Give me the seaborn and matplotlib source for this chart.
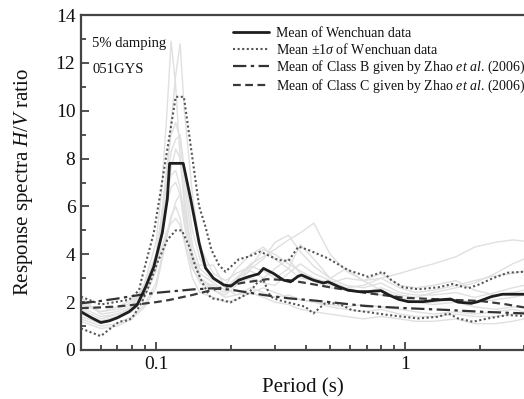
import numpy as np
import pandas as pd
import matplotlib
matplotlib.use("Agg")
import matplotlib.pyplot as plt
import seaborn as sns
from matplotlib.ticker import FixedLocator, NullFormatter, FixedFormatter

# ---------------- data ----------------
grey_periods = [0.05, 0.06, 0.07, 0.08, 0.09, 0.1, 0.105, 0.11, 0.115, 0.12, 0.125, 0.13,
                0.14, 0.15, 0.17, 0.19, 0.21, 0.24, 0.27, 0.3, 0.34, 0.38, 0.43, 0.5,
                0.58, 0.68, 0.8, 0.95, 1.1, 1.3, 1.6, 1.9, 2.3, 2.7, 3.0]
grey_1 = [1.5, 1.2, 1.4, 1.8, 2.8, 4.5, 6.5, 9.5, 12.9, 11.0, 8.0, 6.0, 4.0, 3.2, 2.8, 2.5, 3.0, 3.6,
          3.9, 4.2, 4.6, 4.9, 5.3, 4.0, 3.3, 2.9, 3.2, 2.7, 2.6, 2.7, 2.9, 2.5, 2.3, 2.4, 2.5]
grey_2 = [1.7, 1.3, 1.5, 1.7, 2.3, 3.5, 5.0, 7.0, 9.5, 11.5, 12.8, 10.0, 6.5, 4.3, 3.2, 2.9, 3.2, 3.5,
          3.3, 3.0, 3.4, 3.0, 2.9, 2.6, 2.5, 2.4, 2.6, 2.3, 2.2, 2.4, 2.6, 2.8, 3.2, 3.6, 3.8]
grey_3 = [2.0, 1.6, 1.7, 2.0, 2.7, 4.0, 5.5, 7.0, 8.3, 8.8, 9.0, 7.5, 5.0, 3.8, 3.0, 2.6, 3.0, 3.3,
          3.0, 3.4, 3.8, 3.2, 3.0, 2.8, 3.0, 2.9, 3.0, 3.2, 3.4, 3.6, 3.9, 4.3, 4.5, 4.6, 4.55]
grey_4 = [1.4, 1.1, 1.3, 1.6, 2.2, 3.3, 4.6, 6.2, 7.6, 8.4, 8.0, 6.5, 3.6, 3.55, 3.55, 2.6, 2.3, 2.4,
          2.6, 2.4, 2.2, 2.1, 2.0, 1.9, 1.8, 1.9, 1.8, 1.7, 1.6, 1.5, 1.6, 1.5, 1.6, 1.7, 1.6]
grey_5 = [1.3, 1.0, 1.1, 1.4, 1.9, 2.8, 3.8, 4.8, 5.6, 6.0, 5.5, 4.5, 3.0, 2.4, 2.2, 2.0, 2.1, 2.4,
          2.2, 2.0, 1.9, 1.7, 1.6, 1.5, 1.4, 1.3, 1.4, 1.3, 1.2, 1.2, 1.3, 1.1, 1.1, 1.2, 1.3]
grey_6 = [1.6, 1.2, 1.4, 1.7, 2.4, 3.6, 5.0, 6.4, 7.3, 7.5, 6.8, 5.5, 3.8, 3.0, 2.6, 2.4, 2.9, 3.5,
          4.2, 4.0, 3.6, 3.3, 3.0, 2.7, 2.6, 2.4, 2.3, 2.2, 2.0, 2.0, 2.1, 2.0, 2.1, 2.2, 2.3]
grey_7 = [2.2, 1.5, 1.6, 1.9, 2.6, 3.9, 5.5, 7.5, 9.0, 9.5, 8.8, 7.0, 4.4, 3.4, 2.9, 2.7, 3.4, 4.0,
          4.3, 3.8, 3.4, 4.4, 3.8, 3.0, 2.7, 2.6, 2.8, 2.4, 2.3, 2.3, 2.4, 2.2, 2.4, 2.6, 2.7]
grey_8 = [1.2, 0.9, 1.0, 1.3, 1.8, 2.6, 3.6, 4.6, 5.5, 6.2, 6.5, 5.8, 4.0, 3.0, 2.5, 2.3, 2.7, 3.4,
          3.8, 4.5, 4.8, 4.1, 3.5, 3.0, 3.4, 2.9, 2.5, 2.2, 2.0, 1.9, 2.0, 1.8, 1.7, 1.8, 1.8]
grey_9 = [1.8, 1.4, 1.5, 1.8, 2.5, 3.5, 4.8, 6.0, 6.8, 7.0, 6.5, 5.2, 3.5, 2.8, 2.5, 2.2, 2.3, 2.6,
          2.4, 2.2, 2.3, 2.1, 2.0, 1.8, 1.7, 1.6, 1.7, 1.5, 1.4, 1.4, 1.5, 1.4, 1.4, 1.5, 1.5]
grey_10 = [1.9, 1.6, 1.8, 2.1, 2.6, 3.4, 4.2, 4.9, 5.3, 5.5, 5.2, 4.6, 3.4, 2.9, 2.7, 2.5, 2.8, 3.0,
           2.8, 2.7, 3.2, 3.6, 3.2, 2.9, 2.6, 2.7, 3.0, 2.6, 2.4, 2.5, 2.7, 2.9, 3.1, 3.2, 3.3]
grey_curves = [grey_1, grey_2, grey_3, grey_4, grey_5, grey_6, grey_7, grey_8, grey_9, grey_10]

mean_periods = [0.05, 0.055, 0.06, 0.065, 0.07, 0.078, 0.084, 0.091, 0.098, 0.106, 0.111, 0.1134,
                0.1286, 0.138, 0.149, 0.158, 0.17, 0.187, 0.2, 0.215, 0.235, 0.258, 0.27, 0.296,
                0.325, 0.347, 0.373, 0.384, 0.428, 0.47, 0.49, 0.54, 0.59, 0.65, 0.71, 0.8, 0.86,
                0.94, 1.03, 1.18, 1.35, 1.52, 1.63, 1.84, 1.96, 2.22, 2.46, 3.0]
mean_values = [1.6, 1.35, 1.15, 1.22, 1.35, 1.6, 1.88, 2.65, 3.48, 4.9, 6.3, 7.8,
               7.8, 6.27, 4.47, 3.43, 3.0, 2.72, 2.67, 2.92, 3.06, 3.18, 3.41, 3.2,
               2.92, 2.85, 3.09, 3.13, 2.92, 2.8, 2.85, 2.65, 2.5, 2.44, 2.44, 2.48, 2.3,
               2.12, 2.02, 2.02, 2.09, 2.13, 2.0, 1.95, 2.02, 2.23, 2.33, 2.33]

upper_periods = [0.05, 0.06, 0.078, 0.0855, 0.088, 0.098, 0.103, 0.12, 0.1294, 0.149, 0.158, 0.167,
                 0.179, 0.19, 0.215, 0.235, 0.262, 0.31, 0.34, 0.373, 0.409, 0.49, 0.59, 0.71,
                 0.815, 0.88, 0.98, 1.13, 1.36, 1.55, 1.79, 1.96, 2.25, 2.58, 3.0]
upper_values = [2.23, 1.9, 2.1, 2.5, 3.06, 4.9, 6.27, 10.58, 10.58, 6.0, 5.15, 4.18,
                3.55, 3.27, 3.79, 3.9, 4.11, 3.76, 3.72, 4.32, 4.18, 3.83, 3.34, 3.06,
                3.27, 2.92, 2.62, 2.54, 2.62, 2.76, 2.58, 2.72, 3.0, 3.23, 3.27]

lower_periods = [0.05, 0.06, 0.071, 0.078, 0.0817, 0.088, 0.094, 0.101, 0.111, 0.12, 0.127, 0.136,
                 0.144, 0.153, 0.163, 0.167, 0.184, 0.199, 0.215, 0.235, 0.254, 0.27, 0.288, 0.31,
                 0.35, 0.397, 0.428, 0.477, 0.54, 0.61, 0.69, 0.86, 0.98, 1.13, 1.36, 1.49,
                 1.63, 1.87, 2.15, 2.58, 3.0]
lower_values = [0.9, 0.58, 1.18, 1.25, 1.46, 2.02, 2.72, 3.62, 4.6, 5.0, 5.0, 4.32,
                3.48, 2.85, 2.3, 2.16, 2.09, 1.99, 2.16, 2.37, 2.79, 2.92, 2.23, 2.09,
                1.95, 1.81, 1.53, 1.95, 1.95, 1.67, 1.6, 1.46, 1.39, 1.32, 1.39, 1.53,
                1.32, 1.18, 1.32, 1.46, 1.42]

classb_periods = [0.05, 0.06, 0.07, 0.08, 0.09, 0.1, 0.113, 0.14, 0.17, 0.2, 0.235, 0.27, 0.34,
                  0.41, 0.5, 0.69, 1.0, 1.5, 2.0, 3.0]
classb_values = [1.95, 2.05, 2.15, 2.25, 2.33, 2.39, 2.44, 2.53, 2.58, 2.52, 2.4, 2.3, 2.16,
                 2.09, 2.0, 1.84, 1.75, 1.67, 1.6, 1.53]

classc_periods = [0.05, 0.06, 0.07, 0.08, 0.1, 0.113, 0.14, 0.179, 0.22, 0.28, 0.34, 0.4, 0.5,
                  0.7, 1.0, 1.5, 2.0, 2.5, 3.0]
classc_values = [1.75, 1.78, 1.82, 1.88, 2.0, 2.09, 2.3, 2.58, 2.8, 2.96, 2.92, 2.8, 2.62,
                 2.38, 2.18, 2.1, 2.05, 1.92, 1.78]

legend_labels = ["Mean of Wenchuan data",
                 r"Mean $\pm$1$\mathit{\sigma}$ of Wenchuan data",
                 r"Mean of Class B given by Zhao $\mathit{et\ al}$. (2006)",
                 r"Mean of Class C given by Zhao $\mathit{et\ al}$. (2006)"]
annotation_lines = ["5% damping", "051GYS"]
x_tick_values = [0.1, 1]
x_tick_labels = ["0.1", "1"]

# ---------------- style ----------------
sns.set_style("ticks")
plt.rcParams["font.family"] = ["Liberation Serif", "DejaVu Serif"]
plt.rcParams["mathtext.fontset"] = "custom"
plt.rcParams["mathtext.rm"] = "Liberation Serif"
plt.rcParams["mathtext.it"] = "Liberation Serif:italic"
plt.rcParams["mathtext.sf"] = "Liberation Serif"

fig = plt.figure(figsize=(5.24, 3.99), dpi=100)
ax = fig.add_axes([81 / 524, 49 / 399, 443 / 524, 335 / 399])

grey_df = pd.DataFrame({
    "period": np.tile(grey_periods, len(grey_curves)),
    "value": np.concatenate(grey_curves),
    "curve": np.repeat(np.arange(len(grey_curves)), len(grey_periods)),
})
sns.lineplot(data=grey_df, x="period", y="value", units="curve", estimator=None,
             color="#e0e0e0", linewidth=1.0, ax=ax, legend=False, sort=False)

sns.lineplot(x=upper_periods, y=upper_values, ax=ax, color="#555555", linewidth=1.5,
             linestyle=(0, (1, 1.2)), sort=False)
sns.lineplot(x=lower_periods, y=lower_values, ax=ax, color="#555555", linewidth=1.5,
             linestyle=(0, (1, 1.2)), sort=False)
sns.lineplot(x=classb_periods, y=classb_values, ax=ax, color="#333333", linewidth=1.6,
             linestyle=(0, (6, 2, 1.5, 2)), sort=False)
sns.lineplot(x=classc_periods, y=classc_values, ax=ax, color="#3a3a3a", linewidth=1.6,
             linestyle=(0, (3.5, 2)), sort=False)
sns.lineplot(x=mean_periods, y=mean_values, ax=ax, color="#1e1e1e", linewidth=2.0, sort=False)

ax.set_xscale("log")
ax.set_xlim(0.05, 3.0)
ax.set_ylim(0, 14)
ax.xaxis.set_major_locator(FixedLocator(x_tick_values))
ax.xaxis.set_major_formatter(FixedFormatter(x_tick_labels))
ax.xaxis.set_minor_locator(FixedLocator([0.06, 0.07, 0.08, 0.09, 0.2, 0.3, 0.4, 0.5, 0.6,
                                         0.7, 0.8, 0.9, 2, 3]))
ax.xaxis.set_minor_formatter(NullFormatter())
ax.set_yticks(np.arange(0, 15, 2))
ax.set_yticks(np.arange(1, 14, 2), minor=True)
ax.tick_params(which="both", direction="in", colors="#333333", labelsize=14,
               labelcolor="#111111", width=1.2)
ax.tick_params(which="major", length=6, pad=4)
ax.tick_params(which="minor", length=3.5)
for side in ["left", "bottom", "top"]:
    ax.spines[side].set_linewidth(1.6)
    ax.spines[side].set_color("#444444")
ax.spines["right"].set_visible(False)

ax.set_xlabel("Period (s)", fontsize=15, color="#111111", labelpad=4)
ax.set_ylabel(r"Response spectra $\mathit{H/V}$ ratio", fontsize=15, color="#111111", labelpad=15)

ax.text(0.025, 0.915, annotation_lines[0], transform=ax.transAxes, fontsize=10.5,
        ha="left", va="center", color="#111111")
ax.text(0.025, 0.838, annotation_lines[1], transform=ax.transAxes, fontsize=10.5,
        ha="left", va="center", color="#111111")

lines = ax.get_lines()
# order: grey curves..., upper, lower, classB, classC, mean
handles = [lines[-1], lines[-5], lines[-3], lines[-2]]
leg = ax.legend(handles, legend_labels, loc="upper left", bbox_to_anchor=(0.33, 0.98),
                frameon=False, fontsize=10, handlelength=2.6, handletextpad=0.5,
                labelspacing=0.12, borderaxespad=0)
for t in leg.get_texts():
    t.set_color("#111111")

fig.savefig("out.png", dpi=100)
